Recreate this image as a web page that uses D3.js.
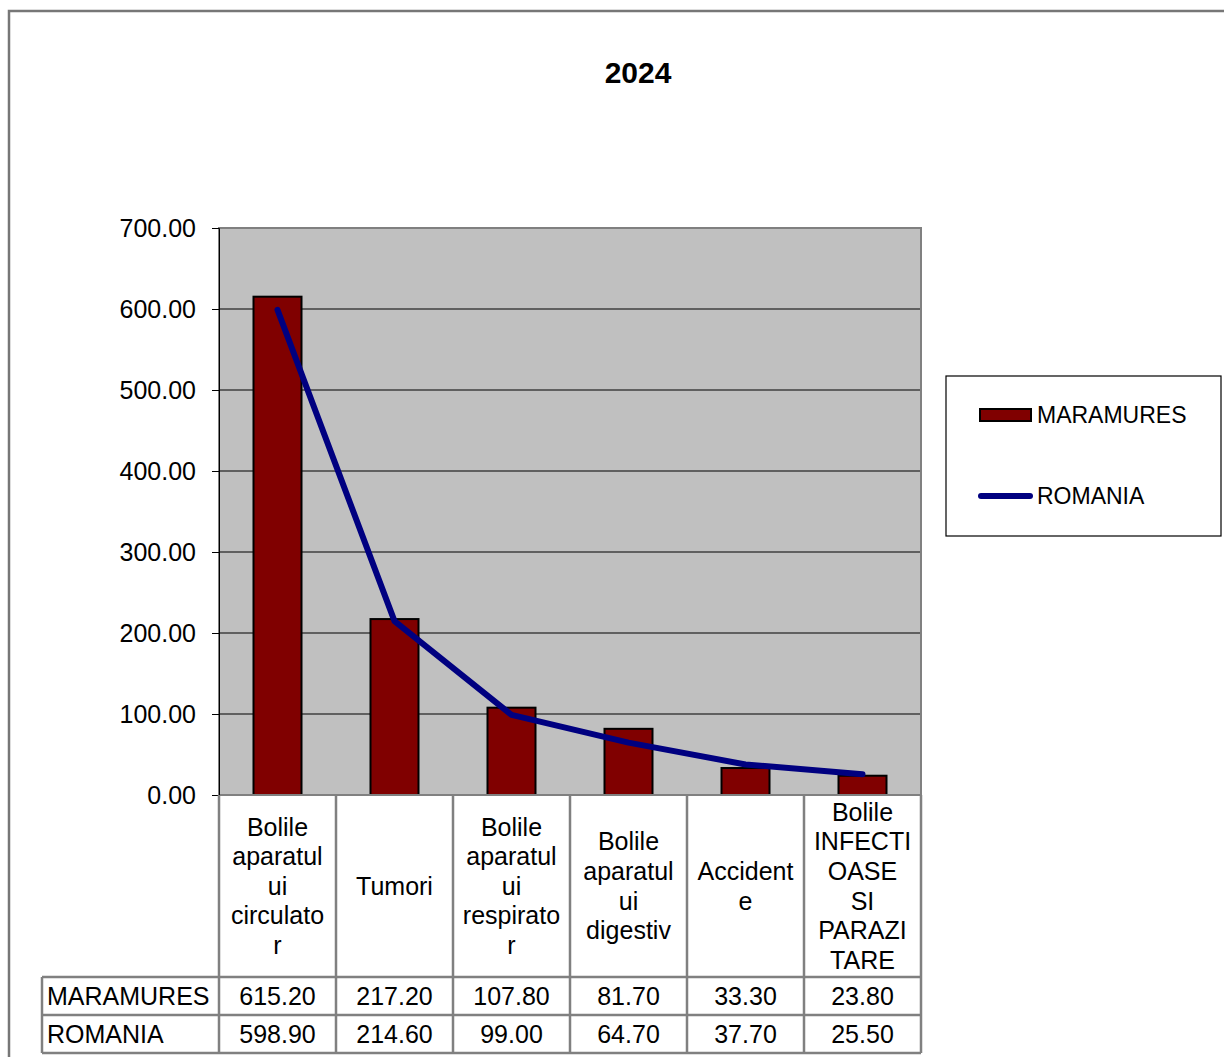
<!DOCTYPE html>
<html><head><meta charset="utf-8">
<script src="https://cdn.jsdelivr.net/npm/d3@7"></script>
<style>body{margin:0;background:#fff}svg{display:block;font-family:"Liberation Sans",Arial,sans-serif}</style>
</head><body>
<script>
const title = "2024";
const categories = [
  ["Bolile","aparatul","ui","circulato","r"],
  ["Tumori"],
  ["Bolile","aparatul","ui","respirato","r"],
  ["Bolile","aparatul","ui","digestiv"],
  ["Accident","e"],
  ["Bolile","INFECTI","OASE","SI","PARAZI","TARE"]
];
const seriesNames = ["MARAMURES","ROMANIA"];
const maramures = [615.20, 217.20, 107.80, 81.70, 33.30, 23.80];
const romania = [598.90, 214.60, 99.00, 64.70, 37.70, 25.50];
const yTicks = [0,100,200,300,400,500,600,700];

const W=1224,H=1057;
const svg=d3.select("body").append("svg").attr("width",W).attr("height",H);
// outer chart border
svg.append("rect").attr("x",9).attr("y",11).attr("width",W+10).attr("height",H+10)
  .attr("fill","none").attr("stroke","#777").attr("stroke-width",2.5);

const pl=219,pr=921,pt=228,pb=795;
const idx=d3.range(categories.length);
const x=d3.scaleBand().domain(idx).range([pl,pr]);
const y=d3.scaleLinear().domain([0,700]).range([pb,pt]);

svg.append("text").attr("x",638).attr("y",83).attr("text-anchor","middle")
  .attr("font-size",30).attr("font-weight","bold").text(title);

// plot area
svg.append("rect").attr("x",pl).attr("y",pt).attr("width",pr-pl).attr("height",pb-pt).attr("fill","#c0c0c0");
svg.append("g").selectAll("line").data(yTicks.filter(d=>d>0&&d<700)).join("line")
  .attr("x1",pl).attr("x2",pr).attr("y1",d=>y(d)).attr("y2",d=>y(d)).attr("stroke","#000").attr("stroke-width",1);

// bars
const bw=48;
svg.append("g").selectAll("rect").data(maramures).join("rect")
  .attr("x",(d,i)=>x(i)+x.bandwidth()/2-bw/2).attr("y",d=>y(d))
  .attr("width",bw).attr("height",d=>y(0)-y(d))
  .attr("fill","#800000").attr("stroke","#000").attr("stroke-width",2);

svg.append("rect").attr("x",pl).attr("y",pt).attr("width",pr-pl).attr("height",pb-pt)
  .attr("fill","none").attr("stroke","#808080").attr("stroke-width",2);

// line
const line=d3.line().x((d,i)=>x(i)+x.bandwidth()/2).y(d=>y(d));
svg.append("path").datum(romania).attr("d",line).attr("fill","none")
  .attr("stroke","#000080").attr("stroke-width",6).attr("stroke-linejoin","round").attr("stroke-linecap","round");

// y axis
const ax=svg.append("g").attr("transform",`translate(${pl},0)`)
  .call(d3.axisLeft(y).tickValues(yTicks).tickFormat(d3.format(".2f")).tickSize(7).tickPadding(16));
ax.select(".domain").attr("stroke","#000").attr("stroke-width",1);
ax.selectAll(".tick line").attr("stroke","#000");
ax.selectAll("text").attr("font-size",25).attr("fill","#000").attr("font-family","Liberation Sans, Arial, sans-serif").attr("dy","0.35em");

// data table
const tb=svg.append("g");
const gc="#808080";
const rowTop=977,rowH=38,labL=42;
const cellMid=(pb+rowTop)/2, lh=29.6;
// header cells text
categories.forEach((lines,i)=>{
  const cx=x(i)+x.bandwidth()/2;
  const t=tb.append("text").attr("text-anchor","middle").attr("font-size",25).attr("fill","#000");
  lines.forEach((s,k)=>{
    t.append("tspan").attr("x",cx).attr("y",cellMid+(k-(lines.length-1)/2)*lh).attr("dy","0.35em").text(s);
  });
});
const rows=[maramures,romania];
rows.forEach((vals,r)=>{
  const yc=rowTop+r*rowH+rowH/2;
  tb.append("text").attr("x",labL+5).attr("y",yc).attr("dy","0.35em").attr("font-size",25).text(seriesNames[r]);
  vals.forEach((v,i)=>{
    tb.append("text").attr("x",x(i)+x.bandwidth()/2).attr("y",yc).attr("dy","0.35em")
      .attr("text-anchor","middle").attr("font-size",25).text(d3.format(".2f")(v));
  });
});
// grid lines of table
const tl=(x1,y1,x2,y2)=>tb.append("line").attr("x1",x1).attr("y1",y1).attr("x2",x2).attr("y2",y2).attr("stroke",gc).attr("stroke-width",2.5);
const tBottom=rowTop+2*rowH;
idx.concat([categories.length]).forEach(i=>{
  const xx= i<categories.length ? x(i) : pr;
  tl(xx,pb,xx,tBottom);
});
tl(labL,rowTop,pr,rowTop);
tl(labL,rowTop+rowH,pr,rowTop+rowH);
tl(labL,tBottom,pr,tBottom);
tl(labL,rowTop,labL,tBottom);

// legend
const lg=svg.append("g");
lg.append("rect").attr("x",946).attr("y",376).attr("width",275).attr("height",160).attr("fill","#fff").attr("stroke","#000").attr("stroke-width",1.2);
lg.append("rect").attr("x",980).attr("y",409).attr("width",51).attr("height",12).attr("fill","#800000").attr("stroke","#000").attr("stroke-width",2);
lg.append("text").attr("x",1037).attr("y",415).attr("dy","0.35em").attr("font-size",23).text(seriesNames[0]);
lg.append("line").attr("x1",981).attr("x2",1030).attr("y1",496).attr("y2",496).attr("stroke","#000080").attr("stroke-width",6).attr("stroke-linecap","round");
lg.append("text").attr("x",1037).attr("y",496).attr("dy","0.35em").attr("font-size",23).text(seriesNames[1]);
</script>
</body></html>
